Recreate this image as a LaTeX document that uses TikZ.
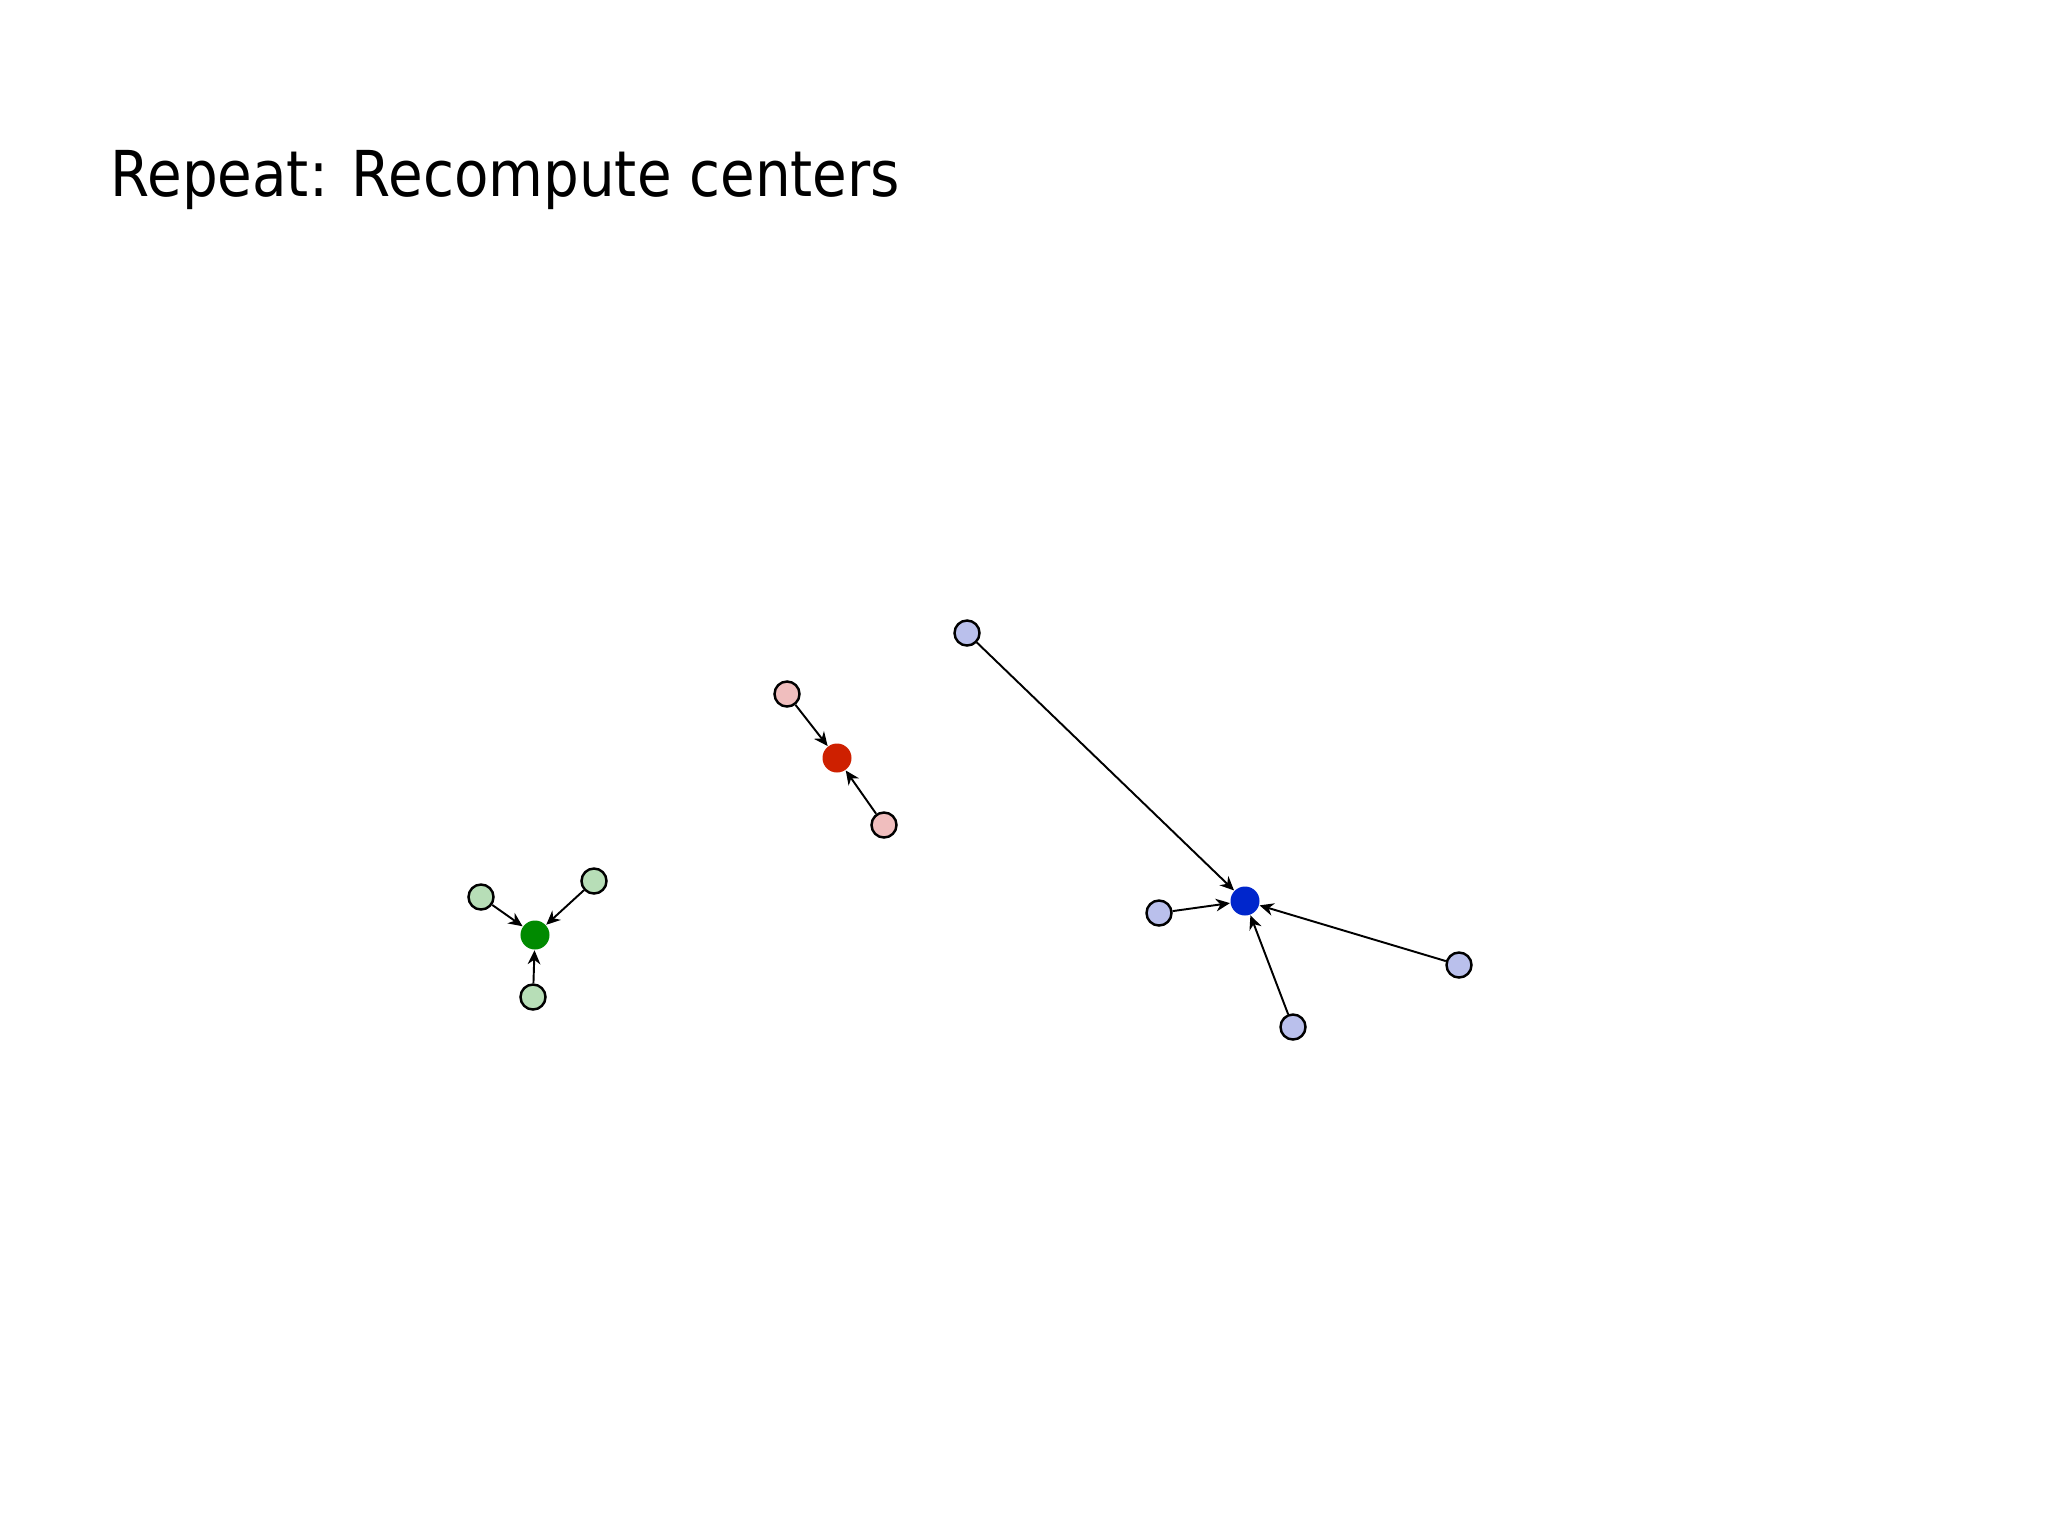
\documentclass[tikz,border=0pt]{standalone}
\usepackage{fontspec}
\setmainfont[FakeStretch=0.89]{DejaVu Sans}
\usetikzlibrary{arrows.meta}

\definecolor{grnDark}{RGB}{0,138,0}
\definecolor{grnLight}{RGB}{183,222,183}
\definecolor{redDark}{RGB}{206,32,0}
\definecolor{redLight}{RGB}{240,190,190}
\definecolor{bluDark}{RGB}{0,38,204}
\definecolor{bluLight}{RGB}{186,192,236}

\begin{document}
\begin{tikzpicture}[x=0.01cm, y=-0.01cm]
    \tikzstyle{pt} = [circle, draw, line width=0.7pt, minimum size=0.25cm, inner sep=0pt]
    \tikzstyle{ctr} = [circle, minimum size=0.29cm, inner sep=0pt]
    \tikzstyle{tocenter} = [-{Stealth[length=4pt,width=3.6pt]}, line width=0.55pt]
    \useasboundingbox (0,0) rectangle (2048,1536);

    \node[anchor=base west, inner sep=0pt, font=\fontsize{18}{22}\selectfont] (title) at (110,196) {Repeat: Recompute centers};

    % green cluster
    \node[ctr, fill=grnDark] (gc) at (535,935) {};
    \node[pt, fill=grnLight] (g1) at (481,897) {};
    \node[pt, fill=grnLight] (g2) at (594,881) {};
    \node[pt, fill=grnLight] (g3) at (533,997) {};

    % red cluster
    \node[ctr, fill=redDark] (rc) at (837,758) {};
    \node[pt, fill=redLight] (r1) at (787,694) {};
    \node[pt, fill=redLight] (r2) at (884,825) {};

    % blue cluster
    \node[ctr, fill=bluDark] (bc) at (1245,901) {};
    \node[pt, fill=bluLight] (b1) at (967,633) {};
    \node[pt, fill=bluLight] (b2) at (1159,913) {};
    \node[pt, fill=bluLight] (b3) at (1293,1027) {};
    \node[pt, fill=bluLight] (b4) at (1459,965) {};

    \foreach \p in {g1,g2,g3} \draw[tocenter] (\p) -- (gc);
    \foreach \p in {r1,r2} \draw[tocenter] (\p) -- (rc);
    \foreach \p in {b1,b2,b3,b4} \draw[tocenter] (\p) -- (bc);
\end{tikzpicture}
\end{document}
